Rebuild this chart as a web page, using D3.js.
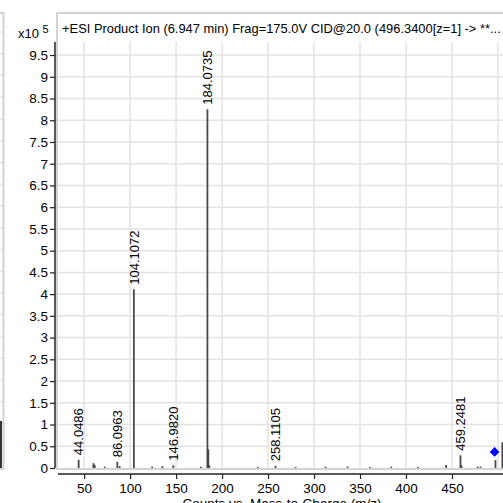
<!DOCTYPE html>
<html>
<head>
<meta charset="utf-8">
<script src="https://cdnjs.cloudflare.com/ajax/libs/d3/7.8.5/d3.min.js"></script>
<style>
  body { margin: 0; background: #fff; }
  text { font-family: "Liberation Sans", Arial, sans-serif; fill: #000; }
</style>
</head>
<body>
<div id="chart"></div>
<script>
// spectrum peaks, intensity in units of 10^5 counts
const peakMz = [44.05, 60.1, 61.5, 72.4, 86.1, 88.6, 104.11, 124, 135, 146.98, 177,
  184.07, 185.08, 186.1, 239, 258.11, 280, 312.6, 336.5, 361, 384, 413, 443.6,
  459.25, 460.3, 478, 481, 497.3, 504.8];
const peakIntensity = [0.18, 0.10, 0.06, 0.02, 0.13, 0.03, 4.10, 0.02, 0.03, 0.05, 0.02,
  8.24, 0.42, 0.05, 0.01, 0.04, 0.01, 0.02, 0.02, 0.01, 0.02, 0.01, 0.06,
  0.28, 0.05, 0.02, 0.02, 0.17, 0.58];
const labelMz = [44.0486, 86.0963, 104.1072, 146.9820, 184.0735, 258.1105, 459.2481];
const labelIntensity = [0.18, 0.13, 4.10, 0.05, 8.24, 0.04, 0.28];
const precursor = { mz: 496.34, y: 0.37 };
const xTicks = [50, 100, 150, 200, 250, 300, 350, 400, 450];
const xGrid = [50, 100, 150, 200, 250, 300, 350, 400, 450, 500];
const yTicks = d3.range(0, 10, 0.5);
// neighbouring panel (cut off at the left edge)
const leftPeakIntensity = [1.08];

const W = 503, H = 503;
const margin = { top: 42, right: 0, bottom: 35, left: 57 };
const svg = d3.select("#chart").append("svg")
    .attr("width", W).attr("height", H);

const x = d3.scaleLinear().domain([20.5, 505.5]).range([margin.left, W - margin.right]);
const y = d3.scaleLinear().domain([0, 9.8]).range([H - margin.bottom, margin.top]);

const frameColor = "#d6d3ce", gridColor = "#e3e3e3";

// left panel remnant
svg.selectAll("line.lgrid").data(yTicks.slice(1)).enter().append("line")
    .attr("x1", 0).attr("x2", 3)
    .attr("y1", d => y(d) - 23).attr("y2", d => y(d) - 23)
    .attr("stroke", gridColor).attr("stroke-width", 1.5);
svg.append("line").attr("x1", 3.5).attr("x2", 3.5).attr("y1", 13).attr("y2", y(0) + 1)
    .attr("stroke", frameColor).attr("stroke-width", 2);
svg.append("line").attr("x1", 0).attr("x2", 4.5).attr("y1", 13).attr("y2", 13)
    .attr("stroke", frameColor).attr("stroke-width", 2);
svg.append("line").attr("x1", 0).attr("x2", 4.5).attr("y1", y(0) + 1).attr("y2", y(0) + 1)
    .attr("stroke", frameColor).attr("stroke-width", 2);
svg.selectAll("line.lpeak").data(leftPeakIntensity).enter().append("line")
    .attr("x1", 1).attr("x2", 1).attr("y1", y(0)).attr("y2", d => y(d))
    .attr("stroke", "#333").attr("stroke-width", 2);

// main frame
svg.append("rect")
    .attr("x", margin.left).attr("y", 13)
    .attr("width", W + 10).attr("height", y(0) + 1 - 13)
    .attr("fill", "none").attr("stroke", frameColor).attr("stroke-width", 2);

const title = svg.append("text")
    .attr("x", 62).attr("y", 33)
    .style("font-size", "13.5px")
    .text("+ESI Product Ion (6.947 min) Frag=175.0V CID@20.0 (496.3400[z=1] -> **...");
// shrink title so it ends at the right edge like the original
const tw = title.node().getComputedTextLength();
title.style("font-size", (13.5 * 439 / tw).toFixed(2) + "px");

// grid
const plot = svg.append("g");
plot.selectAll("line.hgrid").data(yTicks.slice(1)).enter().append("line")
    .attr("x1", margin.left + 1).attr("x2", W)
    .attr("y1", d => y(d)).attr("y2", d => y(d))
    .attr("stroke", gridColor).attr("stroke-width", 1.5);
plot.selectAll("line.vgrid").data(xGrid).enter().append("line")
    .attr("x1", d => x(d)).attr("x2", d => x(d))
    .attr("y1", margin.top).attr("y2", y(0))
    .attr("stroke", gridColor).attr("stroke-width", 1.5);

// peaks
const peaks = peakMz.map((m, i) => ({ mz: m, v: peakIntensity[i] }));
plot.selectAll("line.peak").data(peaks).enter().append("line")
    .attr("x1", d => x(d.mz)).attr("x2", d => x(d.mz))
    .attr("y1", y(0)).attr("y2", d => y(d.v) - 0.5)
    .attr("stroke", "#4a4a4a").attr("stroke-width", 1.8);

// labels
const labels = labelMz.map((m, i) => ({ mz: m, v: labelIntensity[i] }));
plot.selectAll("text.plabel").data(labels).enter().append("text")
    .attr("transform", d => `translate(${x(d.mz)},${y(d.v) - 5}) rotate(-90)`)
    .attr("dy", "0.36em")
    .style("font-size", "13px")
    .text(d => d.mz.toFixed(4));

// precursor marker
plot.append("path")
    .attr("d", d3.symbol(d3.symbolDiamond2, 60)())
    .attr("transform", `translate(${x(precursor.mz)},${y(precursor.y)})`)
    .attr("fill", "#0000ff");

// y axis
const yAxis = d3.axisLeft(y).tickValues(yTicks).tickSize(5).tickPadding(2)
    .tickFormat(d => d3.format("~g")(d));
svg.append("g").attr("transform", `translate(${margin.left - 2},0)`)
    .call(yAxis)
    .call(g => g.select(".domain").attr("d", `M0,${margin.top}V${y(0)}`).attr("stroke", "#222").attr("stroke-width", 1.5))
    .call(g => g.selectAll(".tick line").attr("stroke", "#222").attr("stroke-width", 1.2))
    .call(g => g.selectAll(".tick text").style("font-size", "13.5px").attr("font-family", null));

// x axis
const xAxis = d3.axisBottom(x).tickValues(xTicks).tickSize(5).tickPadding(4);
svg.append("g").attr("transform", `translate(0,${y(0) + 6})`)
    .call(xAxis)
    .call(g => g.select(".domain").attr("d", `M${margin.left + 1},0H${W}`).attr("stroke", "#222").attr("stroke-width", 1.5))
    .call(g => g.selectAll(".tick line").attr("stroke", "#222").attr("stroke-width", 1.2))
    .call(g => g.selectAll(".tick text").style("font-size", "13.5px").attr("font-family", null));

// exponent label
const ex = svg.append("text").attr("x", 18).attr("y", 38).style("font-size", "13px");
ex.append("tspan").text("x10 ");
ex.append("tspan").attr("dy", -5).style("font-size", "11px").text("5");

svg.append("text")
    .attr("x", 282).attr("y", 508)
    .attr("text-anchor", "middle")
    .style("font-size", "13.5px")
    .text("Counts vs. Mass-to-Charge (m/z)");
</script>
</body>
</html>
